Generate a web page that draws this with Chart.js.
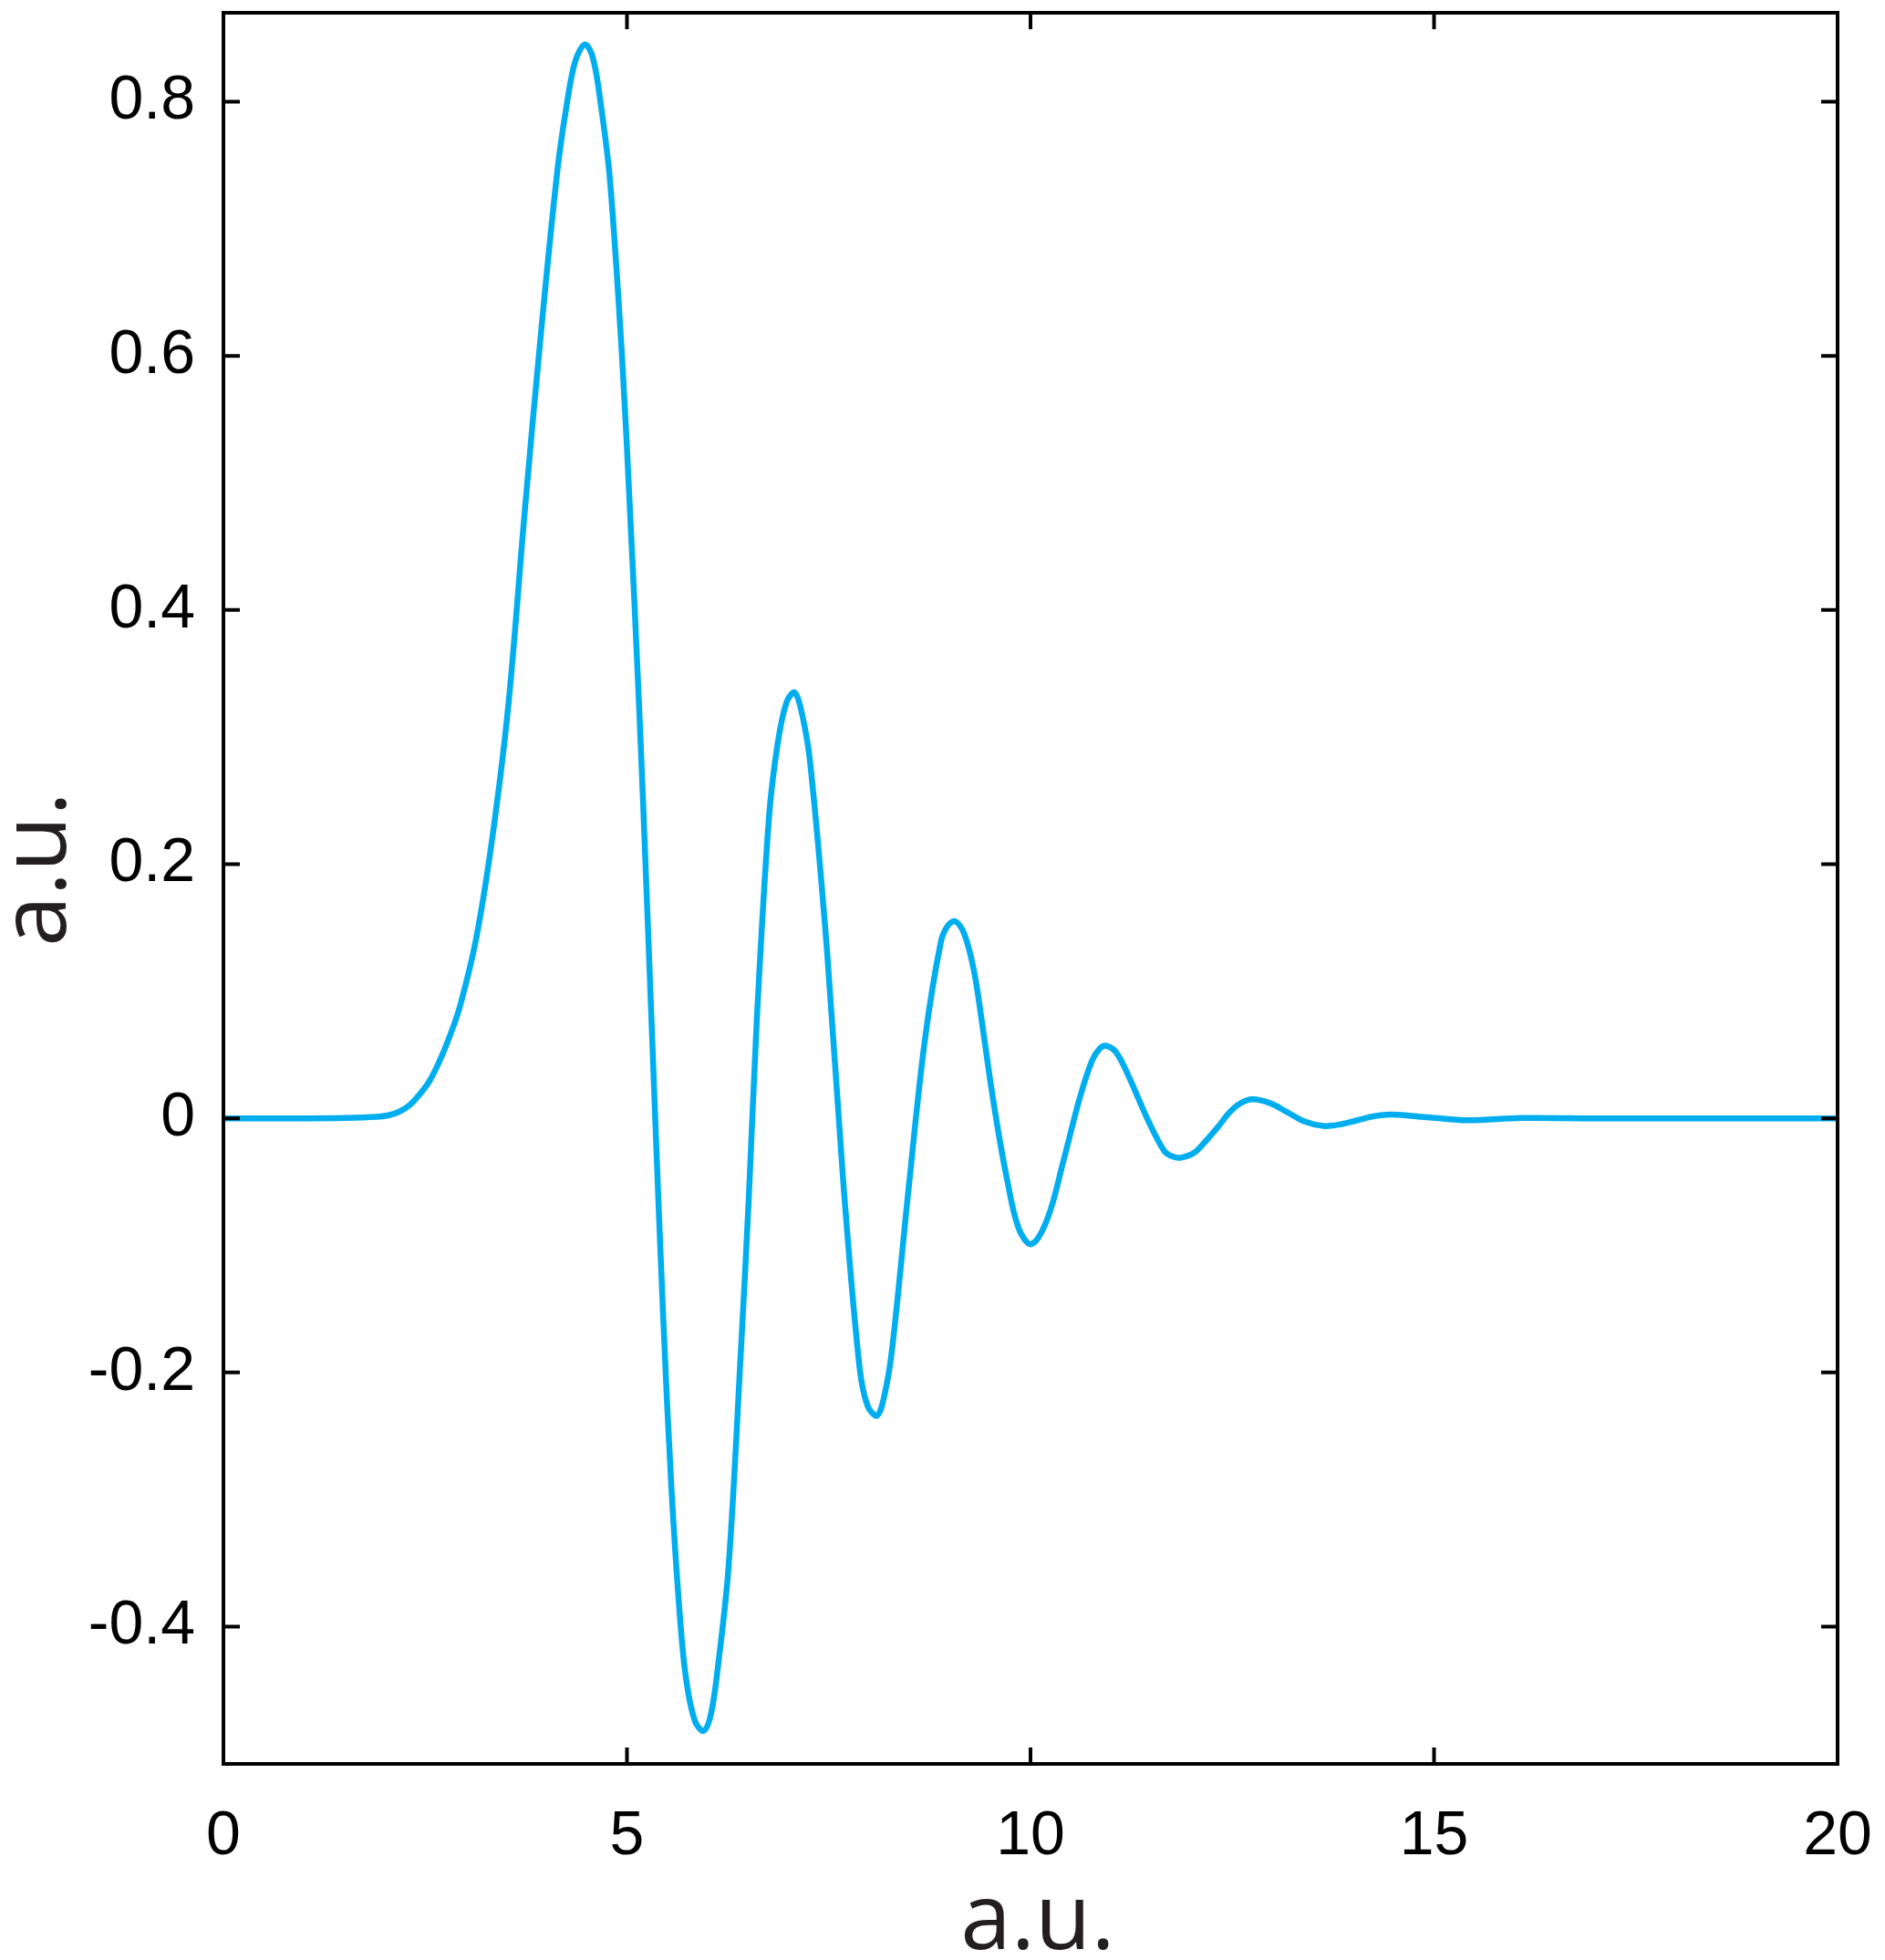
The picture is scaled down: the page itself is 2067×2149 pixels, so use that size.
<!DOCTYPE html>
<html>
<head>
<meta charset="utf-8">
<script src="https://cdn.jsdelivr.net/npm/chart.js@4"></script>
<style>
  html, body { margin: 0; padding: 0; background: #fff; }
  #wrap { width: 2067px; height: 2149px; }
</style>
</head>
<body>
<div id="wrap"><canvas id="chart" width="2067" height="2149"></canvas></div>
<script>
// signal samples (x in a.u., y in a.u.)
const xs = [0, 1.0, 1.5, 1.9, 2.05, 2.17, 2.3, 2.42, 2.55, 2.67, 2.8, 2.93, 3.13, 3.33, 3.53, 3.73, 3.93, 4.14, 4.26, 4.36, 4.48,
  4.58, 4.68, 4.79, 4.94, 5.04, 5.15, 5.25, 5.35, 5.45, 5.55, 5.65, 5.73, 5.84, 5.95, 6.04, 6.13, 6.26, 6.41,
  6.51, 6.61, 6.76, 6.87, 6.98, 7.08, 7.17, 7.27, 7.48, 7.68, 7.88, 7.98, 8.10, 8.20, 8.29, 8.49, 8.69, 8.89, 8.98, 9.07,
  9.18, 9.30, 9.40, 9.50, 9.60, 9.70, 9.85, 10.01, 10.21, 10.41, 10.61, 10.76, 10.86, 10.94, 11.06, 11.21, 11.46, 11.66, 11.76, 11.86,
  12.03, 12.17, 12.32, 12.47, 12.6, 12.75, 12.97, 13.18, 13.4, 13.63, 13.84, 14.05, 14.26, 14.47, 14.95, 15.42, 16.08, 17, 20];
const ys = [0, 0, 0.0003, 0.0012, 0.0025, 0.005, 0.010, 0.018, 0.029, 0.044, 0.064, 0.088, 0.141, 0.22, 0.325, 0.475, 0.615, 0.747, 0.80, 0.832, 0.845,
  0.834, 0.796, 0.738, 0.598, 0.475, 0.325, 0.167, 0.0, -0.158, -0.29, -0.387, -0.44, -0.474, -0.482, -0.469, -0.43, -0.352, -0.185,
  -0.062, 0.079, 0.237, 0.296, 0.328, 0.335, 0.318, 0.28, 0.131, -0.05, -0.195, -0.226, -0.234, -0.215, -0.179, -0.055, 0.061, 0.139, 0.152, 0.155,
  0.145, 0.116, 0.075, 0.03, -0.01, -0.045, -0.086, -0.099, -0.079, -0.033, 0.016, 0.045, 0.055, 0.057, 0.052, 0.034, -0.002, -0.026, -0.030, -0.031,
  -0.027, -0.018, -0.007, 0.005, 0.0118, 0.015, 0.0119, 0.0049, -0.0026, -0.006, -0.0047, -0.0015, 0.0017, 0.003, 0.0007, -0.0015, 0.0003, 0, 0];

const xTicks = [0, 5, 10, 15, 20];
const yTicks = [-0.4, -0.2, 0, 0.2, 0.4, 0.6, 0.8];
const xTitle = 'a.u.';
const yTitle = 'a.u.';

const points = xs.map(function(x, i) { return { x: x, y: ys[i] }; });

// box frame + inward ticks on all four sides (MATLAB style), plus axis titles
const frameTicks = {
  id: 'frameTicks',
  afterDraw(chart) {
    const ctx = chart.ctx;
    const a = chart.chartArea;
    const sx = chart.scales.x, sy = chart.scales.y;
    const len = 18;
    ctx.save();
    ctx.strokeStyle = '#000';
    ctx.lineWidth = 4;
    ctx.beginPath();
    xTicks.forEach(function(v) {
      const px = sx.getPixelForValue(v);
      ctx.moveTo(px, a.bottom); ctx.lineTo(px, a.bottom - len);
      ctx.moveTo(px, a.top); ctx.lineTo(px, a.top + len);
    });
    yTicks.forEach(function(v) {
      const py = sy.getPixelForValue(v);
      ctx.moveTo(a.left, py); ctx.lineTo(a.left + len, py);
      ctx.moveTo(a.right, py); ctx.lineTo(a.right - len, py);
    });
    ctx.stroke();
    ctx.strokeRect(a.left, a.top, a.right - a.left, a.bottom - a.top);

    // axis titles
    ctx.fillStyle = '#231f20';
    ctx.font = '100px "Open Sans", sans-serif';
    ctx.textAlign = 'center';
    ctx.textBaseline = 'alphabetic';
    ctx.fillText(xTitle, (a.left + a.right) / 2 + 8, 2137);
    ctx.translate(72, (a.top + a.bottom) / 2 - 21);
    ctx.rotate(-Math.PI / 2);
    ctx.fillText(yTitle, 0, 0);
    ctx.restore();
  }
};

function noPad(s) {
  s.paddingTop = 0; s.paddingBottom = 0; s.paddingLeft = 0; s.paddingRight = 0;
}

new Chart(document.getElementById('chart'), {
  type: 'line',
  data: {
    datasets: [{
      data: points,
      borderColor: '#00AEEF',
      borderWidth: 6.5,
      pointRadius: 0,
      fill: false,
      tension: 0.35
    }]
  },
  options: {
    responsive: false,
    animation: false,
    devicePixelRatio: 1,
    layout: { padding: { top: 14, right: 52, left: 0, bottom: 0 } },
    plugins: { legend: { display: false }, tooltip: { enabled: false } },
    scales: {
      x: {
        type: 'linear',
        min: 0, max: 20,
        afterBuildTicks: function(s) { s.ticks = xTicks.map(function(v) { return { value: v }; }); },
        afterFit: function(s) { s.height = 215; noPad(s); },
        grid: { display: false, drawTicks: false },
        border: { display: false },
        ticks: {
          color: '#000', padding: 39,
          font: { family: '"Liberation Sans", Arial, sans-serif', size: 68 },
          callback: function(v) { return String(v); }
        }
      },
      y: {
        type: 'linear',
        min: -0.508, max: 0.870,
        afterBuildTicks: function(s) { s.ticks = yTicks.map(function(v) { return { value: v }; }); },
        afterFit: function(s) { s.width = 245; noPad(s); },
        grid: { display: false, drawTicks: false },
        border: { display: false },
        ticks: {
          color: '#000', padding: 31,
          font: { family: '"Liberation Sans", Arial, sans-serif', size: 68 },
          callback: function(v) { return String(+Number(v).toFixed(1)); }
        }
      }
    }
  },
  plugins: [frameTicks]
});
</script>
</body>
</html>
